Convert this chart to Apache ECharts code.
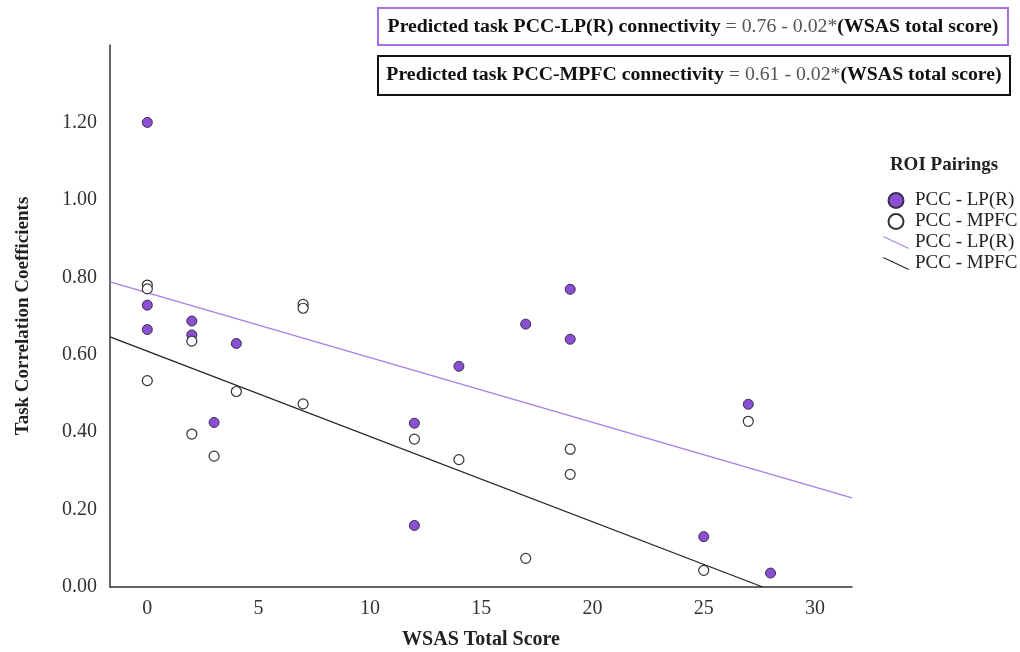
<!DOCTYPE html>
<html>
<head>
<meta charset="utf-8">
<script src="https://cdn.jsdelivr.net/npm/echarts@6/dist/echarts.min.js"></script>
<style>
  html, body { margin: 0; padding: 0; background: #fff; }
  #chart { width: 1020px; height: 652px; }
</style>
</head>
<body>
<div id="chart"></div>
<script>
// data: [WSAS total score, task correlation]
var lpPoints = [
  [0, 1.200], [0, 0.728], [0, 0.665], [2, 0.687], [2, 0.651], [3, 0.425],
  [4, 0.629], [12, 0.423], [12, 0.159], [14, 0.570], [17, 0.679], [19, 0.769],
  [19, 0.640], [25, 0.130], [27, 0.472], [28, 0.036]
];
var mpfcPoints = [
  [0, 0.780], [0, 0.770], [0, 0.533], [2, 0.635], [2, 0.395], [3, 0.338],
  [4, 0.505], [7, 0.730], [7, 0.720], [7, 0.473], [12, 0.382], [14, 0.329],
  [17, 0.074], [19, 0.356], [19, 0.291], [25, 0.043], [27, 0.428]
];
// fit lines, endpoints as drawn
var lpFit = [[-1.676, 0.788], [31.66, 0.230]];
var mpfcFit = [[-1.676, 0.646], [27.65, 0]];

var xTicks = [0, 5, 10, 15, 20, 25, 30];
var yTicks = [0, 0.2, 0.4, 0.6, 0.8, 1.0, 1.2];

var lpName = "PCC - LP(R)";
var mpfcName = "PCC - MPFC";

var serif = "Liberation Serif";
var purple = "#8a4fd3";
var lineIcon = "path://M0,0L2.5,0L28,12L25.5,12Z";

var myChart = echarts.init(document.getElementById("chart"));

var option = {
  backgroundColor: "#fff",
  animation: false,
  grid: { left: 110, right: 168, top: 45, bottom: 65, outerBoundsMode: "none" },
  legend: {
    orient: "vertical",
    left: 877,
    top: 186,
    itemWidth: 28,
    itemHeight: 15,
    itemGap: 2,
    textStyle: { fontFamily: serif, fontSize: 19, color: "#222" },
    data: [
      { name: lpName, icon: "circle" },
      { name: mpfcName, icon: "circle" },
      { name: lpName + " ", icon: lineIcon },
      { name: mpfcName + " ", icon: lineIcon }
    ]
  },
  xAxis: {
    type: "value",
    min: -1.676,
    max: 31.66,
    name: "WSAS Total Score",
    nameLocation: "middle",
    nameGap: 43,
    nameTextStyle: { fontFamily: serif, fontSize: 20, fontWeight: "bold", color: "#222" },
    axisLine: { onZero: false, lineStyle: { color: "#333", width: 1.5 } },
    axisTick: { show: false },
    splitLine: { show: false },
    axisLabel: {
      customValues: xTicks,
      fontFamily: serif, fontSize: 20, color: "#333", margin: 12
    }
  },
  yAxis: {
    type: "value",
    min: 0,
    max: 1.4,
    name: "Task Correlation Coefficients",
    nameLocation: "middle",
    nameGap: 77,
    nameTextStyle: { fontFamily: serif, fontSize: 19, fontWeight: "bold", color: "#222" },
    axisLine: { show: true, onZero: false, lineStyle: { color: "#333", width: 1.5 } },
    axisTick: { show: false },
    splitLine: { show: false },
    axisLabel: {
      customValues: yTicks,
      formatter: function (v) { return v.toFixed(2); },
      fontFamily: serif, fontSize: 20, color: "#333", margin: 13
    }
  },
  graphic: [
    {
      type: "rect",
      shape: { x: 378, y: 8, width: 630, height: 37 },
      style: { fill: "#fff", stroke: "#a470e6", lineWidth: 2 }
    },
    {
      type: "text",
      x: 693, y: 27,
      style: {
        text: "{b|Predicted task PCC-LP(R) connectivity }{n|= 0.76 - 0.02*}{b|(WSAS total score)}",
        align: "center", verticalAlign: "middle",
        rich: {
          b: { fontFamily: serif, fontSize: 19.8, fontWeight: "bold", fill: "#111" },
          n: { fontFamily: serif, fontSize: 19.8, fill: "#555" }
        }
      }
    },
    {
      type: "rect",
      shape: { x: 378, y: 56, width: 632, height: 39 },
      style: { fill: "#fff", stroke: "#111", lineWidth: 2 }
    },
    {
      type: "text",
      x: 694, y: 75,
      style: {
        text: "{b|Predicted task PCC-MPFC connectivity }{n|= 0.61 - 0.02*}{b|(WSAS total score)}",
        align: "center", verticalAlign: "middle",
        rich: {
          b: { fontFamily: serif, fontSize: 19.8, fontWeight: "bold", fill: "#111" },
          n: { fontFamily: serif, fontSize: 19.8, fill: "#555" }
        }
      }
    },
    {
      type: "text",
      x: 944, y: 165,
      style: {
        text: "ROI Pairings",
        align: "center", verticalAlign: "middle",
        fontFamily: serif, fontSize: 19, fontWeight: "bold", fill: "#222"
      }
    }
  ],
  series: [
    {
      name: lpName + " ",
      type: "line",
      data: lpFit,
      symbol: "none",
      color: "#a77fe8",
      lineStyle: { color: "#a77fe8", width: 1.3 },
      z: 1
    },
    {
      name: mpfcName + " ",
      type: "line",
      data: mpfcFit,
      symbol: "none",
      color: "#222",
      lineStyle: { color: "#222", width: 1.3 },
      z: 1
    },
    {
      name: lpName,
      type: "scatter",
      data: lpPoints,
      symbolSize: 10,
      itemStyle: { color: purple, borderColor: "#3a2d4d", borderWidth: 1, opacity: 1 },
      z: 3
    },
    {
      name: mpfcName,
      type: "scatter",
      data: mpfcPoints,
      symbolSize: 10,
      itemStyle: { color: "#fff", borderColor: "#333", borderWidth: 1.2, opacity: 1 },
      z: 4
    }
  ]
};

myChart.setOption(option);
</script>
</body>
</html>
